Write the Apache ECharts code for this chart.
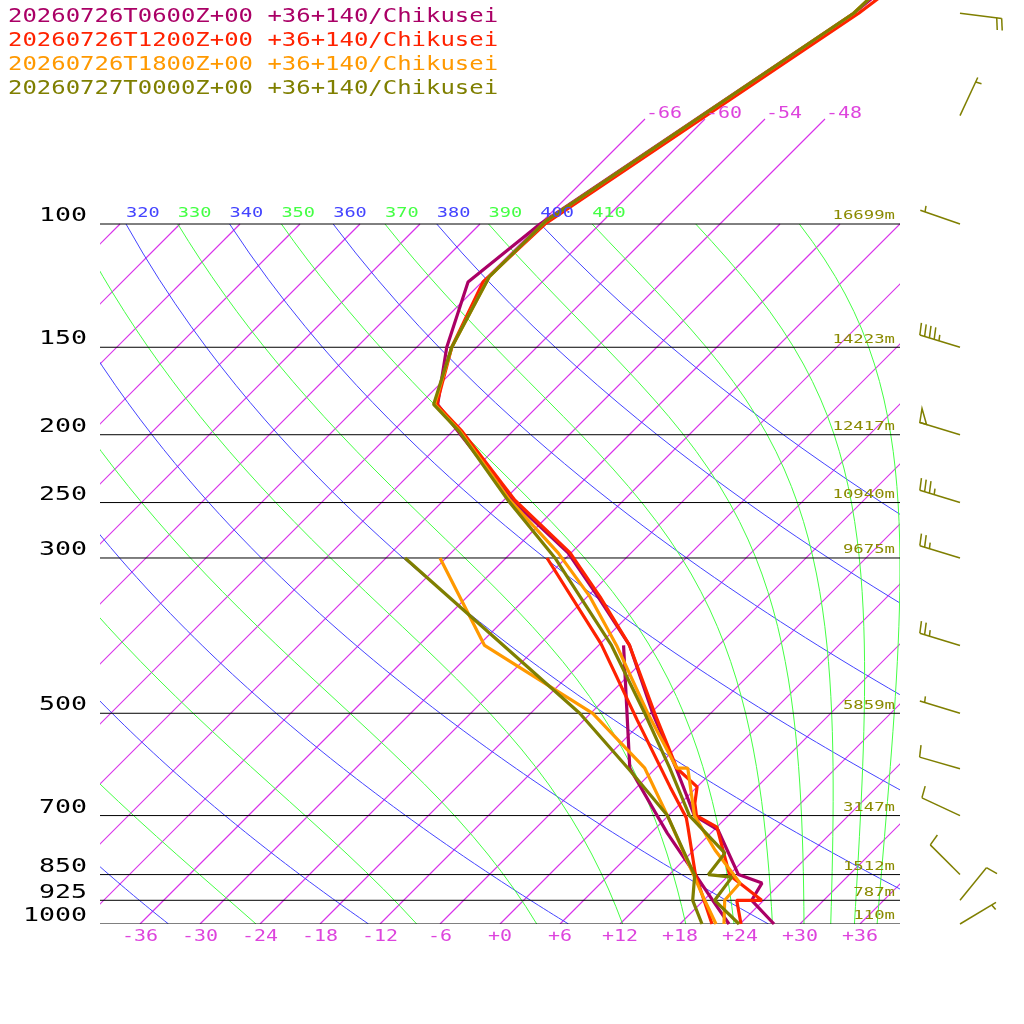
<!DOCTYPE html>
<html><head><meta charset="utf-8">
<script src="https://cdn.jsdelivr.net/npm/echarts@6/dist/echarts.min.js"></script>
<style>html,body{margin:0;padding:0;background:#fff}#c{width:1024px;height:1024px}</style>
</head><body><div id="c"></div>
<script>
// ---- data: [pressure hPa, temperature C]
const runs = ["20260726T0600Z+00 +36+140/Chikusei","20260726T1200Z+00 +36+140/Chikusei","20260726T1800Z+00 +36+140/Chikusei","20260727T0000Z+00 +36+140/Chikusei"];
const runColors = ["#aa0066","#ff2200","#ff9900","#7f7f00"];
const upperT0 = [[47,-55.3],[50,-55.7],[100,-66],[121,-67.4],[150,-63],[181,-58.2],[198,-53.4],[248,-41.2]];
const upperT1 = [[47,-54.6],[50,-55.2],[100,-65.5],[121,-65.9],[150,-62.5],[181,-58.3],[198,-53],[248,-40.9]];
const upperT2 = [[47,-55.6],[50,-55.7],[99,-65.7],[119,-65.8],[150,-62.5],[181,-58.5],[198,-53.2],[248,-41.4]];
const upperT3 = [[47,-55.6],[50,-55.7],[99,-65.7],[119,-65.8],[150,-62.5],[181,-58.6],[198,-53.3],[248,-41.6]];
const lowT0 = [[295,-30.3],[341,-22.9],[400,-14.9],[500,-5.8],[600,2.1],[700,8.6],[734,12.4],[850,18.9],[874,22.1],[925,22.8],[1000,27.4]];
const lowT1 = [[295,-30.1],[341,-22.7],[400,-14.9],[500,-5.6],[599,2.1],[637,6],[672,7.4],[700,8.8],[727,12],[852,18.1],[925,23.8],[925,21.3],[1000,24.1]];
const lowT2 = [[295,-31.3],[341,-23.7],[400,-16.2],[500,-6.3],[599,2.1],[599,3.2],[700,8.6],[784,14.1],[874,19.9],[925,20.1],[1000,22.4]];
const lowT3 = [[300,-31.1],[400,-16.7],[500,-6.6],[599,1.4],[700,8.1],[792,15.4],[850,15.9],[857,18.5],[925,19.1],[1000,23.9]];
const dew0 = [[400,-15.5],[599,-2.6],[741,7.6],[850,14.6],[925,18.9],[1000,22.9]];
const dew1 = [[300,-31.9],[398,-17.9],[511,-6.7],[637,3.3],[705,8],[727,9.1],[850,14.6],[1000,21.2]];
const dew2 = [[300,-42.6],[400,-29.4],[500,-11.8],[599,-1.1],[700,5.9],[850,14.4],[925,18.1],[1000,21.6]];
const dew3 = [[300,-46.1],[500,-13.1],[603,-2.4],[700,5.9],[852,14.6],[925,16.9],[1000,20.2]];
// levels and heights
const levels = [100,150,200,250,300,500,700,850,925,1000];
const heights = ["16699m","14223m","12417m","10940m","9675m","5859m","3147m","1512m","787m","110m"];
const tempTicks = [-36,-30,-24,-18,-12,-6,0,6,12,18,24,30,36];
const isoLabels = [-66,-60,-54,-48];
const thetaLabels = [320,330,340,350,360,370,380,390,400,410];
// wind: [p, direction deg (from), speed kt]
const winds = [[50,97,20],[70,25,5],[100,289,5],[150,287,45],[200,287,50],[250,287,35],[300,287,25],[400,287,25],[500,287,5],[600,286,10],[700,295,10],[850,315,10],[925,39,10],[1000,59,5]];

const SK = 70;
const TOPP = 70.8;
const Yp = p => Math.log10(1000/p);
const pt = (p,T) => [T + SK*Yp(p), Yp(p)];
const conv = a => a.map(d => pt(d[0], d[1]));

const bgLines = [];
const isoT = []; for (let T=-150; T<=42; T+=6) isoT.push(T);
isoT.forEach(T => bgLines.push({pts:[pt(1000,T), pt(isoLabels.includes(T) ? TOPP : 100, T)], c:'#d833ea', w:1.2}));
const pres = []; for (let p=1000; p>=100; p-=10) pres.push(p);
for (let th=220; th<=400; th+=20) bgLines.push({pts:pres.map(p => pt(p, th*Math.pow(p/1000,0.2857)-273.15)), c:'#4444ff', w:1});
function moist(thTop) {
  const Rd=287, cp=1004, Lv=2.5e6, eps=0.622;
  let T = thTop*Math.pow(0.1,0.2857);
  const out = [pt(100, T-273.15)];
  const n = 400, dl = Math.log(10)/n;
  let lp = Math.log(100);
  const f = (TT, lpp) => {
    const p = Math.exp(lpp), Tc = TT-273.15;
    const es = 6.112*Math.exp(17.67*Tc/(Tc+243.5));
    const rs = eps*es/(p-es);
    return (Rd*TT + Lv*rs)/(cp + Lv*Lv*rs*eps/(Rd*TT*TT));
  };
  for (let i=0;i<n;i++) {
    const k1 = f(T, lp), k2 = f(T+k1*dl/2, lp+dl/2), k3 = f(T+k2*dl/2, lp+dl/2), k4 = f(T+k3*dl, lp+dl);
    T += dl*(k1+2*k2+2*k3+k4)/6; lp += dl;
    if (i%10==9) out.push(pt(Math.exp(lp), T-273.15));
  }
  return out;
}
for (let th=230; th<=510; th+=20) bgLines.push({pts:moist(th), c:'#44ff44', w:1});
levels.forEach(p => bgLines.push({pts:[[-40,Yp(p)],[40,Yp(p)]], c:'#000000', w:1}));

const series = [];
series.push({type:'custom', clip:true, animation:false, silent:true, z:1,
  data: bgLines.map((d,i) => [d.pts[0][0], d.pts[0][1], i]),
  renderItem: (params, api) => {
    const d = bgLines[params.dataIndex];
    return {type:'polyline', shape:{points:d.pts.map(q => api.coord(q))}, style:{stroke:d.c, lineWidth:d.w, fill:null, opacity:1}};
  }
});

const profiles = [[upperT0.concat(lowT0), dew0],[upperT1.concat(lowT1), dew1],[upperT2.concat(lowT2), dew2],[upperT3.concat(lowT3), dew3]];
profiles.forEach((pr,i) => {
  [pr[0], pr[1]].forEach(arr => series.push({type:'line', data:conv(arr), symbol:'none', clip:false, animation:false, z:10+i,
    itemStyle:{color:runColors[i]}, lineStyle:{color:runColors[i], width:3.2}}));
});

const texts = [];
levels.forEach(p => texts.push({v:[-40,Yp(p)], t:String(p), c:'#000', s:20, a:'right', dx:-13, dy:-8}));
levels.forEach((p,i) => texts.push({v:[40,Yp(p)], t:heights[i], c:'#8a8a00', s:13, a:'right', dx:-5, dy:-8}));
tempTicks.forEach(t => texts.push({v:[t,0], t:(t<0?'':'+')+t, c:'#dd44dd', s:15, a:'center', dx:0, dy:13}));
isoLabels.forEach(t => texts.push({v:pt(TOPP,t), t:String(t), c:'#dd44dd', s:15, a:'left', dx:1, dy:-5}));
thetaLabels.forEach((th,i) => texts.push({v:pt(100, th*Math.pow(0.1,0.2857)-273.15), t:String(th), c:i%2?'#44ff44':'#4444ff', s:14, a:'left', dx:0, dy:-11}));
series.push({type:'custom', clip:false, animation:false, silent:true, z:30,
  data: texts.map(d => d.v),
  renderItem: (params, api) => {
    const d = texts[params.dataIndex];
    const c = api.coord([api.value(0), api.value(1)]);
    return {type:'text', x:c[0]+d.dx, y:c[1]+d.dy, scaleX:1.33,
      style:{text:d.t, fill:d.c, font:d.s+'px "DejaVu Sans Mono"', align:d.a, verticalAlign:'middle'}};
  }
});

series.push({type:'custom', clip:false, animation:false, silent:true, z:20,
  data: winds.map(w => [0, Yp(w[0]), w[1], w[2]]),
  renderItem: (params, api) => {
    const c = api.coord([0, api.value(1)]);
    const bx = 960, by = c[1];
    const dir = api.value(2)*Math.PI/180, spd = api.value(3);
    const dx = Math.sin(dir), dy = -Math.cos(dir);
    const L = 42, tx = bx+dx*L, ty = by+dy*L;
    const px = -dy, py = dx;
    const st = {stroke:'#7f7f00', lineWidth:1.5};
    const ch = [{type:'line', shape:{x1:bx,y1:by,x2:tx,y2:ty}, style:st}];
    let s = Math.round(spd/5)*5, pos = 0;
    const at = k => [tx - dx*k, ty - dy*k];
    while (s >= 50) { const a = at(pos), b = at(pos+7);
      ch.push({type:'polygon', shape:{points:[a,[a[0]+px*14+dx*2,a[1]+py*14+dy*2],b]}, style:{fill:'none', stroke:'#7f7f00', lineWidth:1.5}});
      pos += 9; s -= 50; }
    while (s >= 10) { const a = at(pos);
      ch.push({type:'line', shape:{x1:a[0],y1:a[1],x2:a[0]+px*12+dx*2,y2:a[1]+py*12+dy*2}, style:st});
      pos += 5; s -= 10; }
    if (s >= 5) { if (pos===0) pos = 5; const a = at(pos);
      ch.push({type:'line', shape:{x1:a[0],y1:a[1],x2:a[0]+px*6+dx*1,y2:a[1]+py*6+dy*1}, style:st}); }
    return {type:'group', children:ch};
  }
});

const chart = echarts.init(document.getElementById('c'), null, {renderer:'canvas'});
chart.setOption({
  backgroundColor:'#fff',
  grid:{left:100, top:0, width:800, height:924},
  xAxis:{type:'value', min:-40, max:40, show:false},
  yAxis:{type:'value', min:0, max:1.32, show:false},
  graphic: runs.map((t,i)=>({type:'text', x:8, y:17+i*24, scaleX:1.26, style:{text:t, fill:runColors[i], font:'19px "DejaVu Sans Mono"', verticalAlign:'middle'}})),
  series
});
</script></body></html>
